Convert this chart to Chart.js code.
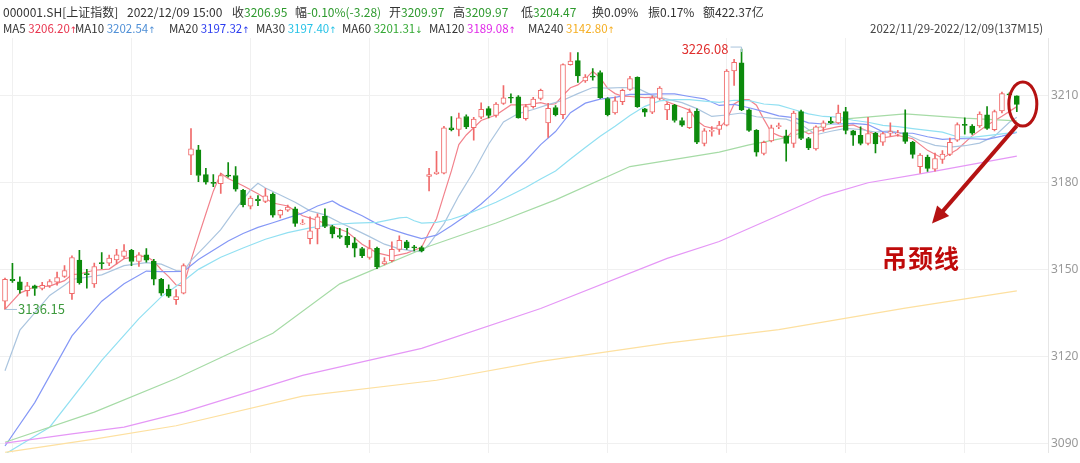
<!DOCTYPE html>
<html>
<head>
<meta charset="utf-8">
<script src="https://cdn.jsdelivr.net/npm/chart.js@4.4.0/dist/chart.umd.min.js"></script>
<style>
  body { margin: 0; background: #fff; }
  #wrap { position: relative; width: 1080px; height: 463px; overflow: hidden;
          font-family: "Noto Sans CJK SC", "Noto Sans", sans-serif; }
  #kline { position: absolute; left: 0; top: 0; }
  .t { position: absolute; font-size: 12px; line-height: 16px; color: #333; white-space: nowrap; }
  .r2 { font-size: 11.5px; }
  .g { color: #2e9a2e; }
  .ar { font-family: "DejaVu Sans", sans-serif; font-size: 9px; }
  .note { position: absolute; left: 882px; top: 239px; font-size: 25px; font-weight: bold;
          letter-spacing: 1px; color: #bf0a0a; white-space: nowrap; }
</style>
</head>
<body>
<div id="wrap">
  <canvas id="kline" width="1080" height="463"></canvas>

  <!-- ligne 1 : cotation -->
  <span class="t" style="left:3px;top:4px">000001.SH[上证指数]</span>
  <span class="t" style="left:127px;top:4px">2022/12/09 15:00</span>
  <span class="t" style="left:232px;top:4px">收<span class="g">3206.95</span></span>
  <span class="t" style="left:295px;top:4px">幅<span class="g">-0.10%(-3.28)</span></span>
  <span class="t" style="left:389px;top:4px">开<span class="g">3209.97</span></span>
  <span class="t" style="left:453px;top:4px">高<span class="g">3209.97</span></span>
  <span class="t" style="left:521px;top:4px">低<span class="g">3204.47</span></span>
  <span class="t" style="left:592px;top:4px">换0.09%</span>
  <span class="t" style="left:648px;top:4px">振0.17%</span>
  <span class="t" style="left:703px;top:4px">额422.37亿</span>

  <!-- ligne 2 : moyennes mobiles -->
  <span class="t r2" style="left:3px;top:20px">MA5 <span style="color:#e8344e">3206.20<span class="ar">↑</span></span></span>
  <span class="t r2" style="left:75px;top:20px">MA10 <span style="color:#4f8fd6">3202.54<span class="ar">↑</span></span></span>
  <span class="t r2" style="left:169px;top:20px">MA20 <span style="color:#2b3cf0">3197.32<span class="ar">↑</span></span></span>
  <span class="t r2" style="left:256px;top:20px">MA30 <span style="color:#26c2e6">3197.40<span class="ar">↑</span></span></span>
  <span class="t r2" style="left:342px;top:20px">MA60 <span style="color:#33a833">3201.31<span class="ar">↓</span></span></span>
  <span class="t r2" style="left:429px;top:20px">MA120 <span style="color:#e028e8">3189.08<span class="ar">↑</span></span></span>
  <span class="t r2" style="left:528px;top:20px">MA240 <span style="color:#f5ae22">3142.80<span class="ar">↑</span></span></span>
  <span class="t r2" style="left:870px;top:20px;color:#444">2022/11/29-2022/12/09(137M15)</span>

  <div class="note">吊颈线</div>
</div>

<script>
// Bougies 15 min, 137 barres (index 0 = 1re barre visible)
const opens = [
  3139.0, 3146.6, 3145.7, 3142.6, 3144.3, 3143.4, 3144.3, 3145.6, 3147.6, 3141.6,
  3153.2, 3148.4, 3145.0, 3152.2, 3152.1, 3153.3, 3154.5, 3156.6, 3152.7, 3155.0,
  3152.8, 3146.6, 3143.2, 3139.5, 3141.8, 3189.4, 3191.3, 3182.7, 3180.0, 3179.6,
  3182.5, 3182.4, 3177.3, 3171.8, 3174.3, 3173.5, 3176.0, 3168.7, 3170.4, 3170.9,
  3165.6, 3160.6, 3164.0, 3168.3, 3164.8, 3161.7, 3161.4, 3159.2, 3157.2, 3154.1,
  3157.3, 3151.9, 3153.0, 3156.9, 3159.5, 3157.6, 3157.5, 3182.1, 3183.0, 3183.2,
  3198.9, 3198.3, 3202.8, 3198.9, 3202.6, 3205.5, 3203.2, 3207.3, 3209.3, 3209.6,
  3202.0, 3206.2, 3209.0, 3200.6, 3205.9, 3203.4, 3220.7, 3222.1, 3215.1, 3216.6,
  3218.0, 3209.0, 3204.0, 3207.9, 3212.1, 3216.3, 3205.4, 3204.3, 3209.0, 3205.1,
  3206.7, 3201.4, 3198.9, 3204.7, 3193.5, 3197.6, 3198.3, 3199.8, 3218.5, 3221.3,
  3205.1, 3198.0, 3190.0, 3194.4, 3199.3, 3196.1, 3193.5, 3204.5, 3195.2, 3191.6,
  3199.0, 3201.2, 3200.6, 3204.5, 3197.8, 3196.3, 3193.5, 3197.0, 3193.9, 3197.0,
  3196.7, 3197.2, 3193.9, 3185.5, 3188.8, 3184.6, 3188.0, 3189.7, 3194.6, 3200.0,
  3199.5, 3199.5, 3203.4, 3198.2, 3204.7, 3210.6, 3209.97
];
const highs = [
  3147.0, 3152.1, 3147.4, 3145.5, 3144.6, 3145.5, 3146.5, 3149.1, 3151.3, 3154.7,
  3156.6, 3150.0, 3152.2, 3155.8, 3154.9, 3156.9, 3158.6, 3156.9, 3155.8, 3157.2,
  3153.5, 3146.9, 3144.7, 3143.0, 3151.9, 3198.6, 3192.8, 3184.9, 3182.7, 3183.2,
  3186.9, 3185.5, 3177.6, 3175.3, 3175.5, 3177.9, 3176.4, 3170.6, 3172.2, 3171.5,
  3167.2, 3168.1, 3169.2, 3170.9, 3165.2, 3164.2, 3164.2, 3161.0, 3157.6, 3160.0,
  3157.7, 3154.1, 3159.5, 3161.6, 3160.0, 3158.3, 3158.0, 3184.9, 3190.8, 3199.4,
  3202.8, 3204.0, 3203.4, 3202.5, 3207.5, 3206.2, 3207.6, 3213.5, 3210.6, 3210.0,
  3207.0, 3209.4, 3212.3, 3207.3, 3206.6, 3221.0, 3224.9, 3224.9, 3217.3, 3219.3,
  3218.6, 3209.3, 3209.6, 3212.3, 3216.7, 3216.5, 3205.6, 3209.9, 3213.1, 3207.6,
  3207.0, 3202.3, 3205.4, 3205.4, 3198.6, 3199.3, 3201.1, 3219.0, 3222.5, 3226.08,
  3205.4, 3198.3, 3194.3, 3199.8, 3200.5, 3198.1, 3204.7, 3205.0, 3195.6, 3199.6,
  3201.3, 3202.5, 3206.7, 3206.0, 3198.0, 3199.2, 3202.5, 3197.3, 3197.3, 3200.6,
  3198.0, 3205.1, 3194.2, 3190.0, 3189.5, 3190.2, 3191.0, 3195.3, 3200.6, 3202.3,
  3200.0, 3204.4, 3206.2, 3205.0, 3211.2, 3211.0, 3209.97
];
const lows = [
  3136.15, 3145.5, 3141.8, 3140.7, 3141.0, 3142.9, 3143.8, 3144.5, 3147.2, 3139.6,
  3144.9, 3143.5, 3143.8, 3150.2, 3151.3, 3151.9, 3153.9, 3151.3, 3151.0, 3152.5,
  3144.6, 3141.0, 3140.3, 3137.9, 3141.5, 3182.7, 3180.3, 3179.4, 3178.6, 3176.2,
  3181.8, 3177.0, 3171.6, 3170.9, 3172.0, 3173.0, 3168.0, 3167.8, 3170.0, 3164.8,
  3165.5, 3158.8, 3158.8, 3164.4, 3160.9, 3160.7, 3157.6, 3154.3, 3154.0, 3153.5,
  3150.2, 3151.5, 3152.6, 3156.2, 3156.9, 3156.4, 3156.0, 3177.1, 3182.8, 3183.0,
  3197.8, 3196.1, 3198.6, 3194.6, 3202.0, 3202.3, 3202.6, 3207.0, 3207.5, 3202.2,
  3201.5, 3205.7, 3208.5, 3195.6, 3203.0, 3202.0, 3220.5, 3214.6, 3214.6, 3215.3,
  3209.0, 3203.0, 3203.6, 3206.9, 3211.8, 3205.9, 3202.8, 3203.8, 3208.5, 3201.7,
  3200.8, 3199.4, 3198.6, 3193.4, 3192.6, 3196.0, 3196.6, 3199.5, 3213.5, 3204.8,
  3197.6, 3189.1, 3189.5, 3194.0, 3198.6, 3187.4, 3192.1, 3194.8, 3191.3, 3191.2,
  3197.6, 3200.3, 3200.3, 3196.8, 3192.8, 3193.0, 3193.0, 3190.2, 3192.8, 3196.0,
  3196.0, 3193.5, 3188.4, 3183.2, 3183.8, 3183.9, 3186.6, 3189.3, 3194.2, 3196.7,
  3196.6, 3199.0, 3198.3, 3197.8, 3204.0, 3209.8, 3204.47
];
const closes = [
  3146.6, 3146.1, 3142.9, 3144.3, 3143.4, 3144.5, 3145.8, 3147.2, 3149.6, 3154.1,
  3145.4, 3148.2, 3151.0, 3152.0, 3153.9, 3155.0, 3156.4, 3152.7, 3155.0, 3153.2,
  3146.6, 3141.8, 3140.7, 3140.6, 3151.3, 3191.6, 3182.4, 3180.1, 3179.7, 3182.4,
  3182.2, 3177.7, 3172.3, 3174.6, 3173.7, 3175.4, 3168.7, 3170.4, 3171.5, 3165.9,
  3165.8, 3163.3, 3168.1, 3164.8, 3162.2, 3161.1, 3158.4, 3157.3, 3154.7, 3157.2,
  3150.8, 3152.7, 3156.9, 3160.0, 3157.5, 3157.4, 3156.4, 3182.7, 3183.6, 3198.9,
  3198.2, 3202.3, 3199.2, 3201.9, 3205.3, 3203.2, 3207.1, 3209.2, 3209.1, 3202.3,
  3206.2, 3208.8, 3211.8, 3205.6, 3203.4, 3220.7, 3221.9, 3216.8, 3216.4, 3216.4,
  3209.3, 3203.4, 3208.2, 3211.8, 3215.9, 3206.2, 3204.3, 3209.2, 3212.6, 3207.0,
  3201.4, 3199.8, 3204.3, 3193.9, 3197.8, 3198.0, 3199.8, 3218.5, 3221.5, 3205.1,
  3198.0, 3190.5, 3193.9, 3198.9, 3199.6, 3193.5, 3204.0, 3195.2, 3191.9, 3199.2,
  3200.6, 3200.6, 3204.0, 3198.0, 3196.3, 3193.5, 3196.9, 3193.3, 3196.9, 3197.6,
  3197.0, 3194.2, 3189.7, 3189.5, 3184.9, 3188.3, 3189.8, 3193.9, 3200.0, 3199.7,
  3197.0, 3203.6, 3198.7, 3204.5, 3210.7, 3210.3, 3206.95
];

// Moyennes mobiles : [index de barre, valeur]
const ma5 = [[0,3136.2],[2,3141.8],[4,3144.0],[6,3144.2],[8,3146.1],[9,3148.2],[10,3148.4],[12,3149.7],[14,3150.1],[16,3153.7],[18,3154.6],[19,3154.5],[20,3152.8],[21,3149.9],[22,3147.5],[23,3144.6],[24,3144.2],[25,3153.2],[26,3161.3],[27,3169.2],[28,3177.0],[29,3183.2],[30,3181.4],[32,3178.9],[34,3176.1],[36,3172.9],[38,3171.9],[40,3168.5],[42,3166.9],[44,3164.8],[46,3162.9],[48,3158.7],[50,3155.7],[52,3154.5],[54,3155.6],[56,3157.6],[57,3162.8],[58,3167.5],[59,3175.8],[60,3184.0],[61,3193.1],[62,3196.4],[64,3201.4],[66,3203.3],[68,3206.8],[70,3206.8],[72,3207.6],[73,3206.9],[74,3207.2],[75,3210.1],[76,3212.7],[77,3213.7],[78,3215.8],[79,3218.4],[80,3216.2],[81,3212.5],[82,3210.7],[83,3209.8],[84,3209.7],[86,3209.3],[88,3209.6],[89,3207.9],[90,3206.9],[91,3206.0],[92,3205.0],[93,3201.3],[94,3199.4],[95,3198.8],[96,3198.8],[97,3201.6],[98,3207.1],[99,3208.6],[100,3208.6],[101,3206.7],[102,3201.8],[103,3197.3],[104,3196.2],[105,3195.3],[106,3198.0],[107,3198.2],[108,3196.8],[110,3198.2],[112,3199.3],[114,3199.9],[116,3197.7],[118,3195.4],[120,3196.3],[122,3195.1],[124,3191.1],[126,3188.4],[128,3191.4],[130,3196.1],[132,3199.8],[134,3202.9],[136,3206.2]];
const ma10 = [[0,3115.0],[2,3129.0],[4,3135.0],[6,3141.0],[8,3144.5],[9,3146.5],[13,3148.1],[16,3151.3],[19,3152.3],[21,3151.8],[23,3149.6],[24,3149.3],[25,3153.0],[27,3158.3],[29,3163.7],[31,3170.9],[33,3177.4],[34,3179.7],[35,3178.1],[37,3175.7],[39,3173.2],[41,3170.2],[43,3168.8],[45,3166.2],[47,3163.8],[49,3161.3],[51,3158.7],[53,3157.1],[55,3156.3],[56,3156.1],[57,3158.6],[59,3165.7],[61,3175.4],[63,3183.8],[65,3193.2],[67,3200.9],[69,3203.8],[71,3205.2],[73,3206.9],[75,3208.4],[77,3210.7],[79,3212.8],[81,3212.6],[83,3212.8],[85,3212.6],[87,3210.1],[89,3208.8],[91,3207.6],[93,3205.5],[95,3202.8],[97,3203.3],[99,3204.0],[101,3202.7],[103,3202.2],[105,3201.9],[107,3200.0],[109,3196.5],[111,3197.7],[113,3198.7],[115,3198.3],[117,3197.4],[119,3197.8],[121,3196.8],[123,3194.5],[125,3192.8],[127,3192.2],[129,3192.7],[131,3193.6],[133,3196.0],[135,3200.8],[136,3202.5]];
const ma20 = [[0,3089.0],[4,3104.0],[9,3127.0],[13,3139.0],[16,3145.0],[19,3149.4],[21,3149.2],[24,3149.3],[26,3153.4],[28,3156.6],[30,3159.8],[32,3162.4],[34,3164.5],[36,3166.1],[38,3167.8],[40,3169.4],[42,3171.9],[44,3173.6],[45,3172.1],[46,3170.9],[48,3168.5],[50,3165.7],[52,3163.7],[54,3162.1],[56,3160.6],[58,3161.8],[60,3165.1],[62,3168.6],[64,3172.6],[66,3177.2],[68,3182.5],[70,3187.5],[72,3193.1],[74,3197.6],[76,3204.1],[78,3207.4],[80,3208.8],[82,3209.4],[84,3210.4],[86,3210.4],[88,3210.6],[90,3210.6],[92,3209.7],[94,3208.9],[96,3206.6],[98,3207.0],[100,3205.8],[102,3204.5],[104,3203.0],[106,3202.4],[108,3200.6],[110,3200.2],[112,3200.2],[114,3200.4],[116,3200.0],[118,3197.5],[120,3197.1],[122,3197.0],[124,3195.8],[126,3194.9],[128,3195.2],[130,3195.1],[132,3194.9],[134,3196.0],[136,3197.3]];
const ma30 = [[0,3086.2],[6,3095.5],[13,3118.6],[18,3133.0],[21,3140.5],[24,3146.0],[26,3150.0],[29,3154.2],[32,3157.4],[35,3160.4],[38,3162.7],[41,3164.3],[44,3165.5],[47,3166.0],[50,3166.2],[53,3167.8],[54,3168.0],[55,3166.8],[56,3166.0],[58,3166.2],[60,3167.3],[62,3169.0],[64,3171.0],[66,3173.2],[68,3175.7],[70,3178.3],[72,3181.2],[74,3184.0],[76,3188.1],[78,3192.1],[80,3196.0],[82,3199.4],[84,3203.1],[86,3206.3],[88,3208.2],[90,3208.6],[92,3208.6],[94,3208.1],[96,3207.7],[98,3208.4],[100,3208.3],[102,3207.1],[104,3206.7],[106,3205.2],[108,3203.7],[110,3202.8],[112,3202.6],[114,3201.5],[116,3200.8],[118,3199.7],[120,3199.3],[122,3198.6],[124,3198.0],[126,3197.4],[128,3195.8],[130,3195.6],[132,3196.2],[134,3196.8],[136,3197.4]];
const ma60 = [[0,3090.3],[12,3100.7],[23,3112.3],[36,3127.9],[45,3145.0],[57,3158.0],[66,3166.0],[74,3174.0],[84,3185.5],[90,3188.0],[96,3190.5],[100,3193.0],[105,3195.5],[113,3202.0],[121,3203.7],[129,3202.2],[136,3201.3]];
const ma120 = [[0,3090.0],[9,3093.2],[16,3095.5],[24,3100.7],[40,3113.4],[56,3122.7],[72,3136.5],[89,3153.8],[96,3159.6],[110,3175.4],[116,3179.9],[123,3183.0],[136,3189.1]];
const ma240 = [[0,3086.8],[12,3091.4],[23,3096.0],[40,3106.2],[58,3111.7],[72,3118.2],[89,3124.5],[104,3129.2],[121,3136.6],[136,3142.6]];

// graduations
const yTicks = [3090, 3120, 3150, 3180, 3210];
const dayStarts = [9, 25, 41, 57, 73, 89, 105, 121];

const RED = '#f06a6a';
const GREEN = '#0c8a0c';

const isUp = opens.map((o, i) => closes[i] >= o);
const bodies = opens.map((o, i) => ({ x: i, y: [Math.min(o, closes[i]), Math.max(o, closes[i])] }));
const upperWicks = opens.map((o, i) => ({ x: i, y: [Math.max(o, closes[i]), highs[i]] }));
const lowerWicks = opens.map((o, i) => ({ x: i, y: [lows[i], Math.min(o, closes[i])] }));
const candleColor = isUp.map(u => u ? RED : GREEN);

function maLine(label, pts, color) {
  return {
    type: 'line',
    label: label,
    data: pts.map(p => ({ x: p[0], y: p[1] })),
    borderColor: color,
    borderWidth: 1.2,
    pointRadius: 0,
    tension: 0,
    fill: false,
    order: 5
  };
}

// annotations : plus haut / plus bas, cercle et fleche
const annot = {
  id: 'annot',
  afterDatasetsDraw(chart) {
    const { ctx, scales: { x, y } } = chart;
    ctx.save();
    ctx.font = '13px "Noto Sans CJK SC", "Noto Sans", sans-serif';
    ctx.textBaseline = 'middle';

    // plus haut 3226.08
    const hx = x.getPixelForValue(99), hy = y.getPixelForValue(3226.08);
    ctx.strokeStyle = '#a9c4dc';
    ctx.lineWidth = 1;
    ctx.beginPath();
    ctx.moveTo(hx - 11, hy - 2);
    ctx.lineTo(hx, hy - 2);
    ctx.lineTo(hx, hy + 3);
    ctx.stroke();
    ctx.fillStyle = '#e0302f';
    ctx.textAlign = 'right';
    ctx.fillText('3226.08', hx - 13, hy);

    // plus bas 3136.15
    const lx = x.getPixelForValue(0), ly = y.getPixelForValue(3136.15);
    ctx.strokeStyle = '#a9c4dc';
    ctx.beginPath();
    ctx.moveTo(lx, ly);
    ctx.lineTo(lx + 12, ly);
    ctx.stroke();
    ctx.fillStyle = '#3d9a3d';
    ctx.textAlign = 'left';
    ctx.fillText('3136.15', lx + 13, ly);

    // cercle autour de la derniere bougie
    const cx = x.getPixelForValue(136) + 6, cy = y.getPixelForValue(3207.1);
    ctx.strokeStyle = '#b51212';
    ctx.lineWidth = 3;
    ctx.beginPath();
    ctx.ellipse(cx, cy, 14, 22, 0, 0, Math.PI * 2);
    ctx.stroke();

    // fleche
    const ax = x.getPixelForValue(136), ay = y.getPixelForValue(3199.6);
    const bx = x.getPixelForValue(124.6), by = y.getPixelForValue(3165.8);
    const ang = Math.atan2(by - ay, bx - ax);
    const head = 17;
    ctx.lineWidth = 4;
    ctx.beginPath();
    ctx.moveTo(ax, ay);
    ctx.lineTo(bx - Math.cos(ang) * head * 0.8, by - Math.sin(ang) * head * 0.8);
    ctx.stroke();
    ctx.fillStyle = '#b51212';
    ctx.beginPath();
    ctx.moveTo(bx, by);
    ctx.lineTo(bx - head * Math.cos(ang) + 8 * Math.sin(ang), by - head * Math.sin(ang) - 8 * Math.cos(ang));
    ctx.lineTo(bx - head * Math.cos(ang) - 8 * Math.sin(ang), by - head * Math.sin(ang) + 8 * Math.cos(ang));
    ctx.closePath();
    ctx.fill();
    ctx.restore();
  }
};

const ctx = document.getElementById('kline').getContext('2d');
new Chart(ctx, {
  type: 'bar',
  data: {
    datasets: [
      {
        label: 'body',
        data: bodies,
        backgroundColor: isUp.map(u => u ? '#ffffff' : GREEN),
        borderColor: candleColor,
        borderWidth: 1,
        borderSkipped: false,
        barThickness: 5,
        minBarLength: 1,
        grouped: false,
        order: 1
      },
      {
        label: 'upper',
        data: upperWicks,
        backgroundColor: candleColor,
        borderWidth: 0,
        barThickness: 1,
        grouped: false,
        order: 2
      },
      {
        label: 'lower',
        data: lowerWicks,
        backgroundColor: candleColor,
        borderWidth: 0,
        barThickness: 1,
        grouped: false,
        order: 2
      },
      maLine('MA240', ma240, '#fde0a0'),
      maLine('MA120', ma120, '#e597f6'),
      maLine('MA60', ma60, '#a6dba6'),
      maLine('MA30', ma30, '#92e0f2'),
      maLine('MA20', ma20, '#8598f6'),
      maLine('MA10', ma10, '#abc5df'),
      maLine('MA5', ma5, '#f2828c')
    ]
  },
  options: {
    responsive: false,
    animation: false,
    devicePixelRatio: 1,
    layout: { padding: { top: 38, left: 0, right: 0, bottom: 0 } },
    plugins: { legend: { display: false }, tooltip: { enabled: false } },
    scales: {
      x: {
        type: 'linear',
        min: -0.672,
        max: 140.19,
        offset: false,
        afterBuildTicks: s => { s.ticks = dayStarts.map(v => ({ value: v })); },
        afterFit: s => { s.height = 0; },
        ticks: { display: false },
        grid: { color: '#f0f0f0', drawTicks: false },
        border: { display: false }
      },
      y: {
        position: 'right',
        min: 3086.65,
        max: 3229.9,
        afterBuildTicks: s => { s.ticks = yTicks.map(v => ({ value: v })); },
        afterFit: s => { s.width = 32; },
        ticks: {
          color: '#999',
          padding: 3,
          font: { size: 12, family: '"Noto Sans", sans-serif' },
          callback: v => String(v)
        },
        grid: { color: '#f0f0f0', drawTicks: false },
        border: { color: '#e6e6e6' }
      }
    }
  },
  plugins: [annot]
});
</script>
</body>
</html>
